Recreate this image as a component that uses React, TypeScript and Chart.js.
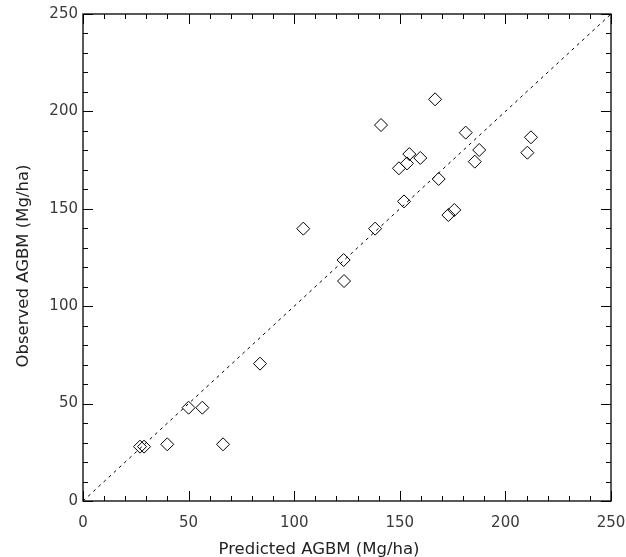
import React, { useEffect, useRef } from "react";
import { Chart, registerables } from "chart.js";

Chart.register(...registerables);

const predicted = [166.7, 141.1, 181.2, 212.1, 210.4, 187.6, 185.5, 154.5, 159.7, 153.4, 149.6, 168.4, 152.0, 175.8, 173.0, 138.3, 123.4, 123.6, 104.3, 83.8, 50.0, 56.5, 39.9, 66.3, 27.0, 28.9];
const observed = [206.2, 193.0, 189.1, 186.7, 178.8, 180.2, 174.2, 178.1, 176.1, 173.3, 170.8, 165.3, 153.8, 149.4, 146.8, 139.8, 123.7, 112.9, 139.8, 70.5, 47.9, 47.9, 29.1, 29.1, 27.9, 27.9];
const oneToOne = [0, 250];
const axisMin = 0;
const axisMax = 250;
const xTitle = "Predicted AGBM (Mg/ha)";
const yTitle = "Observed AGBM (Mg/ha)";

const FONT = "'DejaVu Sans', Verdana, sans-serif";

const insideTicks = {
  id: "insideTicks",
  afterDatasetsDraw(chart: any) {
    const { ctx, chartArea } = chart;
    const { left, right, top, bottom } = chartArea;
    const xs = chart.scales.x;
    const ys = chart.scales.y;
    ctx.save();
    ctx.strokeStyle = "#000";
    ctx.lineWidth = 1;
    ctx.beginPath();
    xs.ticks.forEach((t: any) => {
      const p = Math.round(xs.getPixelForValue(t.value)) + 0.5;
      const len = t.value % 50 === 0 ? 10 : 5;
      ctx.moveTo(p, bottom);
      ctx.lineTo(p, bottom - len);
      ctx.moveTo(p, top);
      ctx.lineTo(p, top + len);
    });
    ys.ticks.forEach((t: any) => {
      const p = Math.round(ys.getPixelForValue(t.value)) + 0.5;
      const len = t.value % 50 === 0 ? 10 : 5;
      ctx.moveTo(left, p);
      ctx.lineTo(left + len, p);
      ctx.moveTo(right, p);
      ctx.lineTo(right - len, p);
    });
    ctx.stroke();
    ctx.lineWidth = 1.3;
    ctx.strokeRect(left, top, right - left, bottom - top);

    // axis titles
    ctx.fillStyle = "#222";
    ctx.font = `16.5px ${FONT}`;
    ctx.textAlign = "center";
    ctx.textBaseline = "alphabetic";
    ctx.fillText(xTitle, 319, 554);
    ctx.translate(28, 266);
    ctx.rotate(-Math.PI / 2);
    ctx.fillText(yTitle, 0, 0);
    ctx.restore();
  },
};

export default function App() {
  const ref = useRef<HTMLCanvasElement>(null);
  useEffect(() => {
    if (!ref.current) return;
    const chart = new Chart(ref.current, {
      type: "scatter",
      data: {
        datasets: [
          {
            type: "line",
            data: oneToOne.map((v) => ({ x: v, y: v })),
            borderColor: "#000",
            borderWidth: 1,
            borderDash: [3, 4],
            pointRadius: 0,
            fill: false,
          } as any,
          {
            data: predicted.map((p, i) => ({ x: p, y: observed[i] })),
            pointStyle: "rectRot",
            pointRadius: 6.5,
            borderColor: "#000",
            borderWidth: 1,
            backgroundColor: "rgba(0,0,0,0)",
          },
        ],
      },
      options: {
        responsive: false,
        animation: false,
        events: [],
        layout: { padding: { left: 0, right: 15, top: 14, bottom: 0 } },
        plugins: { legend: { display: false }, tooltip: { enabled: false } },
        scales: {
          x: {
            type: "linear",
            min: axisMin,
            max: axisMax,
            grid: { display: false, drawTicks: false },
            border: { display: false },
            ticks: {
              stepSize: 10,
              padding: 13,
              color: "#3a3a3a",
              font: { family: FONT, size: 15 },
              maxRotation: 0,
              autoSkip: false,
              callback: (v: any) => (v % 50 === 0 ? String(v) : ""),
            },
            title: { display: false, text: xTitle },
            afterFit: (s: any) => {
              s.height = 56;
              s.paddingLeft = 0;
              s.paddingRight = 0;
            },
          },
          y: {
            type: "linear",
            min: axisMin,
            max: axisMax,
            grid: { display: false, drawTicks: false },
            border: { display: false },
            ticks: {
              stepSize: 10,
              padding: 5,
              color: "#3a3a3a",
              font: { family: FONT, size: 15 },
              autoSkip: false,
              callback: (v: any) => (v % 50 === 0 ? String(v) : ""),
            },
            title: { display: false, text: yTitle },
            afterFit: (s: any) => {
              s.width = 83;
              s.paddingTop = 0;
              s.paddingBottom = 0;
            },
          },
        },
      },
      plugins: [insideTicks],
    });
    return () => chart.destroy();
  }, []);
  return (
    <div style={{ position: "fixed", left: 0, top: 0, width: 626, height: 557, background: "#fff" }}>
      <canvas ref={ref} width={626} height={557} />
    </div>
  );
}
